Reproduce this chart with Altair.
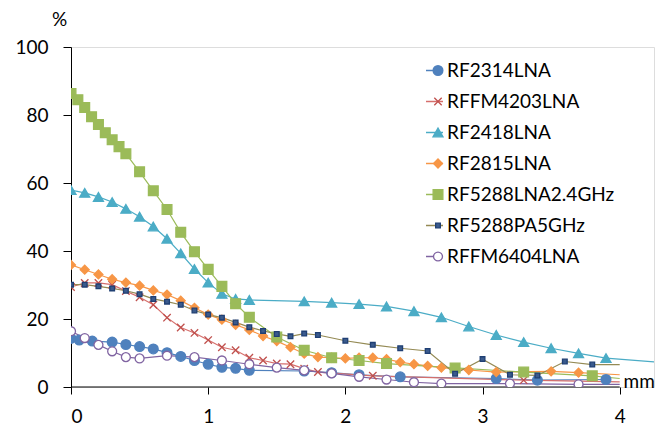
import altair as alt
import pandas as pd

SERIES = ["RF2314LNA", "RFFM4203LNA", "RF2418LNA", "RF2815LNA",
          "RF5288LNA2.4GHz", "RF5288PA5GHz", "RFFM6404LNA"]
LINE_COLORS = ["#4F81BD", "#D66F6C", "#4BACC6", "#F79646", "#9BBB59", "#948A54", "#8064A2"]
MARKER_FILL = ["#4F81BD", "transparent", "#4BACC6", "#F79646", "#9BBB59", "#3A5A8C", "white"]
MARKER_STROKE = ["#4F81BD", "#C0504D", "#4BACC6", "#F79646", "#9BBB59", "#1F3F73", "#8064A2"]
MARKER_SHAPE = ["circle", "M-1,-1L1,1M-1,1L1,-1", "triangle-up", "diamond", "square",
                "square", "circle"]
MARKER_SIZE = [95, 55, 100, 80, 95, 22, 80]

X_TICKS = [0, 1, 2, 3, 4]
Y_TICKS = [0, 20, 40, 60, 80, 100]

RF2314_X = [0, 0.06, 0.155, 0.3, 0.4, 0.5, 0.6, 0.7, 0.8, 0.9, 1.0, 1.1, 1.2, 1.3, 1.7, 1.9, 2.1, 2.4, 3.1, 3.4, 3.9]
RF2314_Y = [14.3, 13.8, 13.5, 13.2, 12.5, 11.9, 11.2, 10.1, 9.0, 7.8, 6.7, 5.8, 5.5, 4.9, 4.7, 4.2, 3.6, 3.0, 2.5, 2.0, 2.2]

RFFM4203_X = [0, 0.1, 0.2, 0.3, 0.4, 0.5, 0.6, 0.7, 0.8, 0.9, 1.0, 1.1, 1.2, 1.3, 1.4, 1.5, 1.6, 1.7, 1.8, 2.2, 3.3]
RFFM4203_Y = [29.4, 30.6, 30.6, 30.1, 28.2, 26.4, 24.2, 20.4, 17.5, 15.9, 13.8, 11.7, 10.8, 8.6, 7.8, 6.9, 6.7, 5.4, 4.4, 3.3, 2.0]

RF2418_X = [0, 0.1, 0.2, 0.3, 0.4, 0.5, 0.6, 0.7, 0.8, 0.9, 1.0, 1.1, 1.2, 1.3, 1.7, 1.9, 2.1, 2.3, 2.5, 2.7, 2.9, 3.1, 3.3, 3.5, 3.7, 3.9]
RF2418_Y = [57.9, 57.1, 55.9, 54.4, 52.4, 50.1, 47.2, 43.6, 39.3, 34.7, 30.7, 27.4, 25.9, 25.6, 25.2, 24.8, 24.4, 23.7, 22.3, 20.5, 17.8, 15.3, 13.2, 11.4, 9.9, 8.5]

RF2815_X = [0, 0.1, 0.2, 0.3, 0.4, 0.5, 0.6, 0.7, 0.8, 0.9, 1.0, 1.1, 1.2, 1.3, 1.4, 1.5, 1.6, 1.7, 1.8, 1.9, 2.0, 2.1, 2.2, 2.3, 2.4, 2.5, 2.6, 2.7, 2.9, 3.1, 3.5, 3.7]
RF2815_Y = [35.9, 34.5, 33.1, 31.7, 30.7, 29.8, 28.4, 27.2, 25.4, 23.3, 21.3, 19.8, 18.3, 16.8, 15.0, 13.5, 11.7, 9.8, 8.8, 8.6, 8.4, 8.6, 8.6, 8.2, 7.3, 6.7, 6.2, 5.7, 5.0, 4.4, 4.6, 4.2]

RF5288LNA_X = [0, 0.05, 0.1, 0.15, 0.2, 0.25, 0.3, 0.35, 0.4, 0.5, 0.6, 0.7, 0.8, 0.9, 1.0, 1.1, 1.2, 1.3, 1.5, 1.7, 1.9, 2.1, 2.3, 2.8, 3.3, 3.8]
RF5288LNA_Y = [86.3, 84.5, 82.2, 79.5, 77.2, 74.8, 72.7, 70.7, 68.6, 63.3, 57.7, 52.2, 45.5, 39.8, 34.6, 29.6, 24.5, 20.5, 14.7, 10.8, 8.6, 7.8, 6.9, 5.6, 4.4, 3.3]

RF5288PA_X = [0, 0.1, 0.2, 0.3, 0.4, 0.5, 0.6, 0.7, 0.8, 0.9, 1.0, 1.1, 1.2, 1.3, 1.4, 1.5, 1.6, 1.7, 1.8, 2.0, 2.2, 2.4, 2.6, 2.8, 3.0, 3.2, 3.4, 3.6, 3.8]
RF5288PA_Y = [30.1, 30.1, 29.6, 29.0, 28.3, 27.3, 25.9, 25.1, 24.2, 22.5, 21.3, 20.4, 19.0, 17.6, 16.5, 15.6, 14.9, 15.7, 15.3, 13.6, 12.4, 11.4, 10.6, 3.9, 8.2, 3.6, 3.4, 7.5, 6.6]

RFFM6404_X = [0, 0.1, 0.2, 0.3, 0.4, 0.5, 0.7, 0.9, 1.1, 1.3, 1.5, 1.7, 1.9, 2.1, 2.3, 2.5, 2.7, 3.2, 3.7]
RFFM6404_Y = [16.4, 14.4, 12.4, 10.5, 8.8, 8.4, 9.2, 8.8, 7.8, 6.7, 5.7, 4.9, 4.0, 3.0, 2.2, 1.4, 1.0, 1.0, 0.8]

# line-only continuation past the last marker
TAIL_X = [None, 4.0, 4.3, 4.0, 4.0, 4.0, 4.0]
TAIL_Y = [None, 1.5, 7.2, 3.6, 2.5, 6.6, 0.8]

ALL_X = [RF2314_X, RFFM4203_X, RF2418_X, RF2815_X, RF5288LNA_X, RF5288PA_X, RFFM6404_X]
ALL_Y = [RF2314_Y, RFFM4203_Y, RF2418_Y, RF2815_Y, RF5288LNA_Y, RF5288PA_Y, RFFM6404_Y]

line_rows, pt_rows = [], []
for k, (name, xs, ys, tx, ty) in enumerate(zip(SERIES, ALL_X, ALL_Y, TAIL_X, TAIL_Y)):
    for xv, yv in zip(xs, ys):
        line_rows.append({"series": name, "k": k, "x": xv, "y": yv})
        pt_rows.append({"name": name, "x": xv, "y": yv})
    if tx is not None:
        line_rows.append({"series": name, "k": k, "x": tx, "y": ty})
line_df = pd.DataFrame(line_rows)
pt_df = pd.DataFrame(pt_rows)
axis_df = pd.DataFrame({"x0": [X_TICKS[0]], "x1": [X_TICKS[-1]], "y": [Y_TICKS[0]]})

FONT = "Lato"
FS = 19

x_scale = alt.Scale(domain=[0, 4.25], nice=False, zero=False)
y_scale = alt.Scale(domain=[0, 100], nice=False)

x_axis = alt.Axis(values=X_TICKS, domain=False, grid=False, tickSize=7, tickColor="black",
                  labelFontSize=FS, labelFont=FONT, labelColor="black", labelPadding=13, format="d",
                  title="mm", titleX=552, titleY=0, titleAlign="left", titleBaseline="alphabetic",
                  titleFontSize=FS, titleFont=FONT, titleFontWeight="normal", titleColor="black")
y_axis = alt.Axis(values=Y_TICKS, grid=False, domainColor="black", tickColor="black", tickSize=8,
                  labelFontSize=FS, labelFont=FONT, labelColor="black", labelPadding=15,
                  title="%", titleAngle=0, titleX=-12, titleY=-28, titleAlign="center",
                  titleBaseline="middle", titleFontSize=FS, titleFont=FONT,
                  titleFontWeight="normal", titleColor="black")

line_legend = alt.Legend(orient="none", legendX=354, legendY=14, title=None, symbolType="stroke",
                         symbolSize=289, symbolStrokeWidth=1.5, labelFontSize=FS, labelFont=FONT,
                         labelColor="black", labelOffset=3, rowPadding=11, padding=0, labelLimit=400)
pt_legend = alt.Legend(orient="none", legendX=357.5, legendY=14, title=None,
                       labelFontSize=FS, labelFont=FONT, labelExpr="''", labelOffset=3,
                       rowPadding=11, padding=0, symbolStrokeWidth=1.3, labelLimit=400)

axis_rule = alt.Chart(axis_df).mark_rule(color="black", strokeWidth=1).encode(
    x=alt.X("x0:Q", scale=x_scale, axis=x_axis), x2="x1:Q",
    y=alt.Y("y:Q", scale=y_scale, axis=y_axis))

lines = alt.Chart(line_df).mark_line(clip=True, strokeWidth=1.2).encode(
    x=alt.X("x:Q", scale=x_scale, axis=x_axis),
    y=alt.Y("y:Q", scale=y_scale, axis=y_axis),
    color=alt.Color("series:N", sort=alt.EncodingSortField(field="k", op="min"),
                    scale=alt.Scale(range=LINE_COLORS), legend=line_legend))

points = alt.Chart(pt_df).mark_point(opacity=1, strokeWidth=1.3, clip=True).encode(
    x=alt.X("x:Q", scale=x_scale),
    y=alt.Y("y:Q", scale=y_scale),
    shape=alt.Shape("name:N", scale=alt.Scale(domain=SERIES, range=MARKER_SHAPE), legend=pt_legend),
    fill=alt.Fill("name:N", scale=alt.Scale(domain=SERIES, range=MARKER_FILL), legend=pt_legend),
    stroke=alt.Stroke("name:N", scale=alt.Scale(domain=SERIES, range=MARKER_STROKE), legend=pt_legend),
    size=alt.Size("name:N", scale=alt.Scale(type="ordinal", domain=SERIES, range=MARKER_SIZE),
                  legend=pt_legend))

chart = alt.layer(axis_rule, lines, points).properties(
    width=583, height=340,
    autosize=alt.AutoSizeParams(type="none"),
    padding={"left": 63, "top": 39, "right": 2, "bottom": 42},
).configure_view(stroke=None).configure(font=FONT)

chart.save("out.html", embed_options={"renderer": "svg", "actions": False})
